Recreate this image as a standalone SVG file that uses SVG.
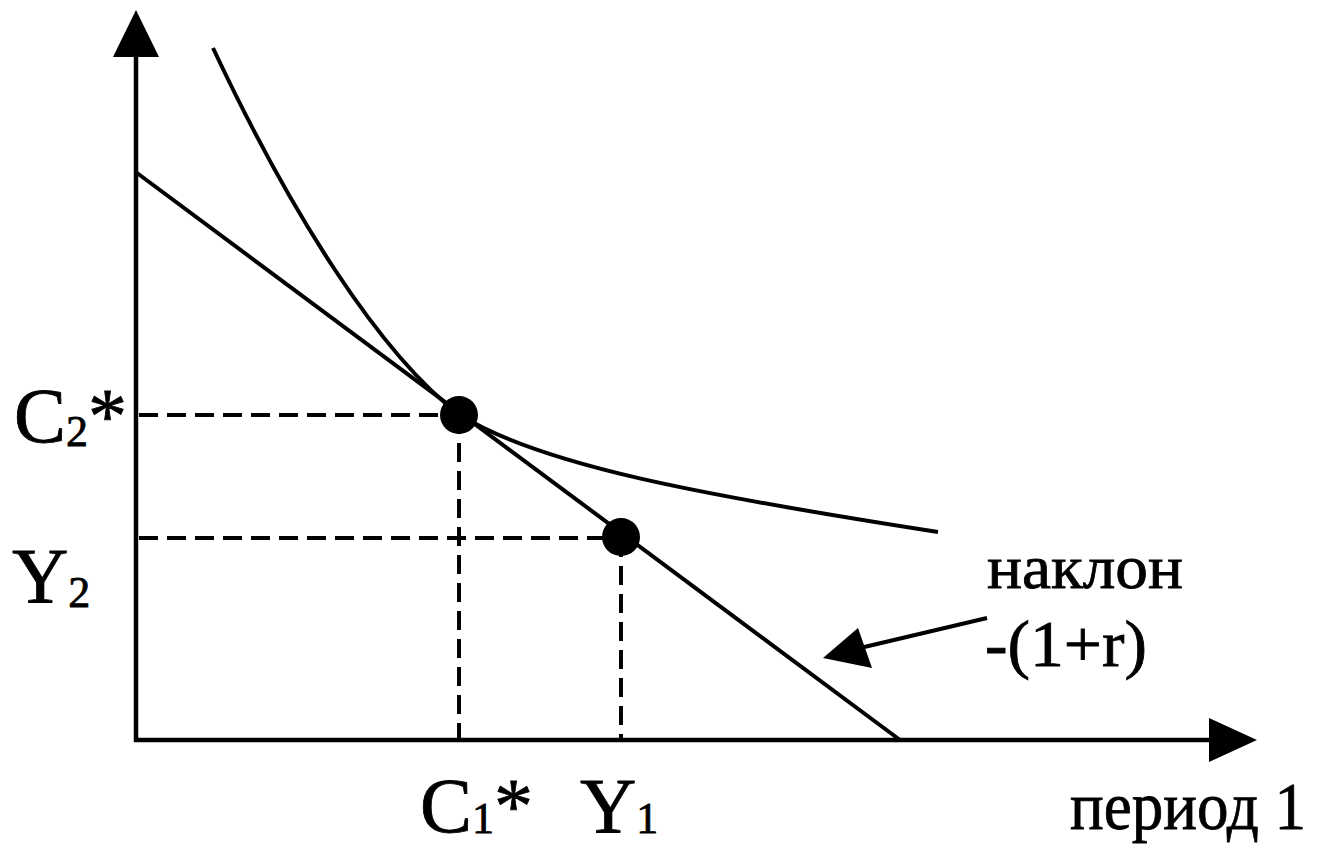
<svg xmlns="http://www.w3.org/2000/svg" width="1325" height="851" viewBox="0 0 1325 851">
<style>
.ax{stroke:#000;stroke-width:4.5;fill:none}
.ln{stroke:#000;stroke-width:4;fill:none}
.ds{stroke:#000;stroke-width:4;fill:none;stroke-dasharray:19 9}
.t{font-family:"Liberation Serif","Times New Roman",serif;fill:#000;stroke:#000;stroke-width:0.8}
</style>
<rect width="1325" height="851" fill="#fff"/>
<g id="axes">
<line class="ax" x1="136" y1="742" x2="136" y2="55"/>
<polygon points="136,10 113,57 159,57" fill="#000"/>
<line class="ax" x1="134" y1="740" x2="1210" y2="740"/>
<polygon points="1257,740 1209,718 1209,762" fill="#000"/>
</g>
<g id="connectors">
<line class="ds" x1="139" y1="415" x2="459" y2="415"/>
<line class="ds" x1="459" y1="415" x2="459" y2="740"/>
<line class="ds" x1="139" y1="538" x2="621" y2="538"/>
<line class="ds" x1="621" y1="538" x2="621" y2="740"/>
<line id="budget" class="ln" x1="137" y1="173" x2="900" y2="740"/>
<path id="indiff" class="ln" d="M213,48 C290,212 380,355 460,415 C540,465 700,495 938,532"/>
<line class="ln" x1="987" y1="618" x2="860" y2="648"/>
<polygon points="823,658 858,628 872,668" fill="#000"/>
</g>
<g id="pointC">
<circle cx="459" cy="415" r="19" fill="#000"/>
</g>
<g id="pointY">
<circle cx="621" cy="537" r="19" fill="#000"/>
</g>
<g id="labels">
<text class="t" x="14" y="442" font-size="78">C<tspan font-size="44" dy="4">2</tspan><tspan dy="-4">*</tspan></text>
<text class="t" x="12" y="602" font-size="78">Y<tspan font-size="44" dy="5">2</tspan></text>
<text class="t" x="420" y="832" font-size="78">C<tspan font-size="44" dy="1">1</tspan><tspan dy="-1">*</tspan></text>
<text class="t" x="580" y="832" font-size="78">Y<tspan font-size="44" dy="1">1</tspan></text>
<text class="t" x="987" y="588" font-size="62" textLength="196" lengthAdjust="spacingAndGlyphs">наклон</text>
<text class="t" x="985" y="666" font-size="66" textLength="162" lengthAdjust="spacingAndGlyphs">-(1+r)</text>
<text class="t" x="1070" y="829" font-size="68" textLength="236" lengthAdjust="spacingAndGlyphs">период 1</text>
</g>
</svg>
